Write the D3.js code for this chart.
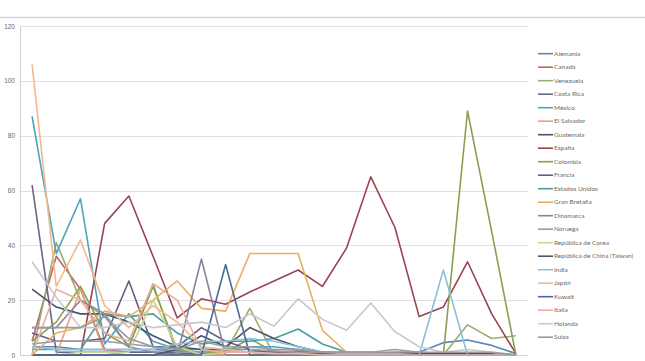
<!DOCTYPE html>
<html>
<head>
<meta charset="utf-8">
<script src="https://cdn.jsdelivr.net/npm/d3@7"></script>
<style>
  body { margin: 0; background: #fff; }
  svg { display: block; font-family: Lato, "Liberation Sans", sans-serif; }
</style>
</head>
<body>
<svg width="645" height="361"></svg>
<script>
// categories on the x axis (labels are cut off below the picture)
const categories = ['1','2','3','4','5','6','7','8','9','10','11','12','13','14','15','16','17','18','19','20','21'];
const yTicks = [0, 20, 40, 60, 80, 100, 120];

const countries = ['Alemania','Canadá','Venezuela','Costa Rica','México','El Salvador','Guatemala','España',
  'Colombia','Francia','Estados Unidos','Gran Bretaña','Dinamarca','Noruega','República de Corea',
  'República de China (Taiwan)','India','Japón','Kuwait','Italia','Holanda','Suiza'];

const alemania   = [3, 3, 2, 2, 2, 2, 1.5, 1, 1, 1, 1, 1, 1, 0.5, 0.5, 1, 1, 4.5, 5.5, 3.5, 0.5];
const canada     = [5, 36, 24, 2, 1, 1, 0.5, 0.5, 1, 1, 1, 1.5, 1, 1, 0.5, 0.5, 0.5, 0.5, 0.5, 0.5, 0];
const venezuela  = [0, 41, 20, 14, 3, 26, 0, 0, 1, 17, 0, 0, 0, 0, 0, 0, 0, 0, 11, 6, 7];
const costaRica  = [62, 1, 1, 1, 1, 1, 1, 0, 0, 0, 0, 0, 0, 0, 0, 0, 0, 0, 0, 0, 0];
const mexico     = [87, 37, 57, 4, 15, 5, 2, 2, 2, 3, 3, 2, 1, 0, 0, 0, 0, 0, 0, 0, 0];
const elSalvador = [0, 0, 24, 1, 0, 0, 0, 0, 0, 0, 0, 0, 0, 0, 0, 0, 0, 0, 0, 0, 0];
const guatemala  = [24, 17.5, 15, 15, 12, 7, 3, 2, 2, 1, 1, 1, 0.5, 0.5, 0.5, 0.5, 0.5, 0.5, 0.5, 0.5, 0];
const espana     = [0, 0, 0, 48, 58, 36, 13.5, 20.5, 18.5, 23, 27, 31, 25, 39, 65, 46.5, 14, 17.5, 34, 15, 0.5];
const colombia   = [5, 12, 25, 8, 3, 25, 2, 1, 1, 6, 1, 0.5, 0.5, 0.5, 0.5, 0.5, 0.5, 0, 89, 45, 0];
const francia    = [8, 5, 5, 6, 27, 3, 3, 10, 5, 2, 1, 1, 0.5, 0.5, 0.5, 0.5, 0.5, 0.5, 0.5, 0.5, 0];
const eeuu       = [2, 2, 2, 15, 14, 15, 8, 4, 5, 5, 6, 9.5, 4, 1, 1, 0.5, 0.5, 0.5, 0.5, 0.5, 0];
const granBretana = [0, 8, 10, 16, 14, 20, 27, 17, 16, 37, 37, 37, 9, 1, 0.5, 0, 0, 0, 0, 0, 0];
const dinamarca  = [10, 10, 20, 15, 3, 1, 0, 35, 0, 0, 0, 0, 0, 0, 0, 0, 0, 0, 0, 0, 0];
const noruega    = [4, 5, 5, 5, 4, 3, 1, 1, 2, 2, 1.5, 1, 1, 1, 1, 1, 1, 0.5, 0.5, 0.5, 0];
const corea      = [0, 0, 1, 1, 1, 20, 3, 0, 1, 1, 0, 0, 0, 0, 0, 0, 0, 0, 0, 0, 0];
const taiwan     = [0, 0, 0, 0, 0, 0, 2, 7, 3, 10, 6, 3, 1, 0.5, 0.5, 0.5, 0.5, 0.5, 0.5, 0.5, 0];
const india      = [3, 2, 2, 2, 2, 2, 4, 5, 5, 6, 5, 3, 1, 0.5, 0.5, 0.5, 0, 31, 0, 0, 0];
const japon      = [106, 25, 42, 18, 10, 18, 12, 3, 2, 1, 0.5, 0, 0, 0, 0, 0, 0, 0, 0, 0, 0];
const kuwait     = [0, 0, 0, 0, 0, 0, 0, 0, 33, 0, 0, 0, 0, 0, 0, 0, 0, 0, 0, 0, 0];
const italia     = [0, 24, 20, 8, 5, 26, 20, 2, 1, 1, 0.5, 0.5, 0, 0, 0, 0, 0, 0, 0, 0, 0];
const holanda    = [34, 21, 10, 10, 12, 10, 11, 12, 10, 15, 10.5, 20.5, 13, 9, 19, 8.5, 3, 1, 2, 1, 0];
const suiza      = [10, 10, 10, 14, 6, 3, 2, 5, 3, 3, 2, 2, 1, 1, 1, 2, 1, 1, 1, 1, 0];

const seriesValues = [alemania, canada, venezuela, costaRica, mexico, elSalvador, guatemala, espana,
  colombia, francia, eeuu, granBretana, dinamarca, noruega, corea, taiwan, india, japon, kuwait,
  italia, holanda, suiza];

// excel-like palette, a bit washed out like the screenshot
const colors = ['#5a86bd','#c0646a','#9aae72','#6e6384','#4ba3be','#f0a070','#3f5670','#9a4452',
  '#8aa050','#6a5a80','#4e9aa6','#e8b060','#8a83a0','#9a9aa6','#c8d49a','#4c5566',
  '#8cc0dc','#f3b98c','#4a6a9a','#e8b0a0','#c8c8cc','#9a9aa0'];

const svg = d3.select('svg');

// outer frame line at top
svg.append('line')
  .attr('x1', 0).attr('x2', 645)
  .attr('y1', 17.5).attr('y2', 17.5)
  .attr('stroke', '#d4d4d4').attr('stroke-width', 1.5);

const x = d3.scalePoint()
  .domain(categories)
  .range([20, 528])
  .padding(0.5);

const y = d3.scaleLinear()
  .domain([0, 120])
  .range([355, 26]);

// horizontal gridlines
svg.append('g')
  .selectAll('line')
  .data(yTicks)
  .enter()
  .append('line')
  .attr('x1', 20).attr('x2', 528)
  .attr('y1', d => Math.round(y(d)) + 0.5)
  .attr('y2', d => Math.round(y(d)) + 0.5)
  .attr('stroke', '#e0e0e0')
  .attr('stroke-width', 1.2);

// y axis
const yAxis = svg.append('g')
  .attr('transform', 'translate(20,0)')
  .call(d3.axisLeft(y).tickValues(yTicks).tickSize(0).tickPadding(5));
yAxis.select('.domain').attr('stroke', '#d0d0d0');
yAxis.selectAll('text')
  .attr('fill', '#6a6a6a')
  .style('font-size', '6.5px');

// x axis baseline
svg.append('line')
  .attr('x1', 20).attr('x2', 528)
  .attr('y1', y(0) + 0.5).attr('y2', y(0) + 0.5)
  .attr('stroke', '#d0d0d0');

const line = d3.line()
  .x((d, i) => x(categories[i]))
  .y(d => y(d));

svg.append('g')
  .selectAll('path')
  .data(seriesValues)
  .enter()
  .append('path')
  .attr('d', d => line(d))
  .attr('fill', 'none')
  .attr('stroke', (d, i) => colors[i])
  .attr('stroke-width', 1.6)
  .attr('stroke-linejoin', 'round');

// legend on the right
const legend = svg.append('g')
  .selectAll('g')
  .data(countries)
  .enter()
  .append('g')
  .attr('transform', (d, i) => 'translate(538,' + (53.7 + i * 13.5) + ')');

legend.append('line')
  .attr('x1', 0).attr('x2', 15)
  .attr('stroke', (d, i) => colors[i])
  .attr('stroke-width', 1.6);

legend.append('text')
  .attr('x', 16)
  .attr('dy', '0.35em')
  .attr('fill', '#6a6a6a')
  .style('font-size', '6.5px')
  .text(d => d);
</script>
</body>
</html>
